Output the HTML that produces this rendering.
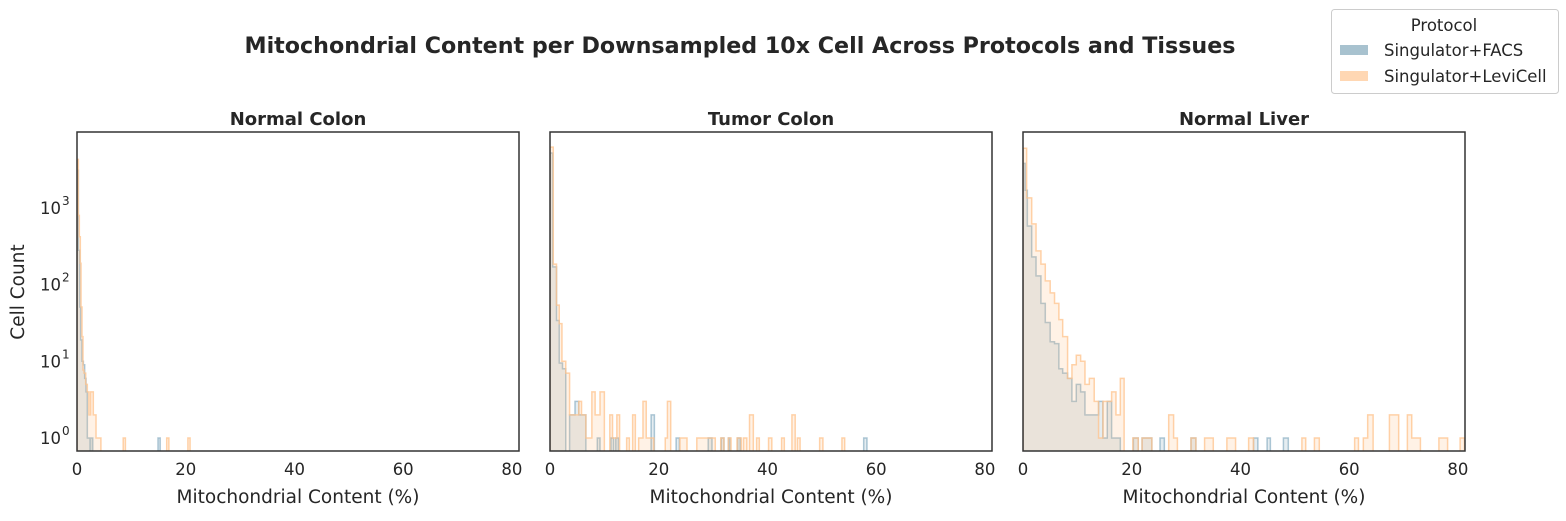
<!DOCTYPE html>
<html><head><meta charset="utf-8"><style>
body{margin:0;background:#fff;font-family:"Liberation Sans","DejaVu Sans",sans-serif}
</style></head><body>
<svg id="chart" width="1566" height="516" viewBox="0 0 1566 516" xmlns="http://www.w3.org/2000/svg" font-family="DejaVu Sans, Liberation Sans, sans-serif">
<rect width="1566" height="516" fill="#fff"/>
<text x="740" y="53" text-anchor="middle" font-size="22.2" font-weight="bold" fill="#262626">Mitochondrial Content per Downsampled 10x Cell Across Protocols and Tissues</text>
<text transform="translate(24,292) rotate(-90)" text-anchor="middle" font-size="18.5" fill="#262626">Cell Count</text>
<g>
<rect x="1331.5" y="9.5" width="227" height="84" rx="3" fill="#fff" stroke="#ccc"/>
<text x="1444" y="31" text-anchor="middle" font-size="16.5" fill="#262626">Protocol</text>
<rect x="1340" y="45" width="28" height="10" fill="#a8c2cf"/>
<text x="1384" y="56" font-size="16.5" fill="#262626">Singulator+FACS</text>
<rect x="1340" y="71" width="28" height="10" fill="#ffd7b3"/>
<text x="1384" y="82" font-size="16.5" fill="#262626">Singulator+LeviCell</text>
</g>
<g id="panels"></g>
</svg>
<script>
const panelTitles=["Normal Colon","Tumor Colon","Normal Liver"];
const xTicks=[0,20,40,60,80];
const yTicks=[0,1,2,3];
// bins: [start, end, count]
const colonNormalFacs=[[0,0.25,3100],[0.25,0.5,280],[0.5,0.67,51],[0.67,0.92,19],[0.92,1.17,10],[1.17,1.41,9],[1.41,1.66,6],[1.66,1.9,4],[1.9,2.4,1],[2.5,2.9,1],[14.9,15.3,1]];
const colonNormalLevi=[[0,0.25,4300],[0.25,0.43,800],[0.43,0.61,420],[0.61,0.74,190],[0.74,0.92,51],[0.92,1.1,21],[1.1,1.29,7.7],[1.29,1.6,7],[1.6,1.9,5],[1.9,2.2,4],[2.2,2.5,2],[2.5,3.0,4],[3.0,3.5,2],[3.5,4.4,1],[8.5,8.9,1],[16.5,16.9,1],[20.4,20.8,1]];
const colonTumorFacs=[[0,0.5,5200],[0.5,1.2,170],[1.2,1.7,34],[1.7,2.3,9.5],[2.3,2.9,8],[3.6,4.6,2],[4.6,5.3,3],[5.3,6.6,2],[8.7,9.2,1],[11.2,11.7,1],[12.1,12.6,1],[18.6,19.2,2],[23.2,23.8,1],[29.1,29.8,1],[31.5,32.0,1],[32.8,33.1,1],[34.5,35.0,1],[57.7,58.3,1]];
const colonTumorLevi=[[0,0.6,6200],[0.6,1.2,185],[1.2,1.7,54],[1.7,2.2,31],[2.2,2.9,10],[2.9,3.6,7],[3.6,5.3,2],[5.3,5.8,3],[5.8,6.6,2],[6.6,7.7,1],[7.7,8.3,4],[8.3,9.2,2],[9.2,10.0,4],[11.0,11.5,2],[11.5,12.3,1],[12.3,12.8,2],[14.1,14.6,1],[15.2,15.7,2],[16.3,17.1,1],[17.1,17.7,3],[17.7,19.1,1],[21.2,21.6,1],[21.6,22.2,3],[23.9,25.2,1],[27.0,30.4,1],[31.4,32.0,1],[32.8,33.3,1],[34.4,35.2,1],[35.6,36.2,1],[36.7,37.4,2],[38.0,38.5,1],[40.2,40.8,1],[42.6,43.1,1],[44.5,45.1,2],[45.5,46.0,1],[49.6,50.2,1],[53.7,54.2,1]];
const liverNormalFacs=[[0,0.4,3800],[0.4,0.8,1700],[0.8,1.6,580],[1.6,2.4,230],[2.4,3.3,130],[3.3,4.1,57],[4.1,5.0,32],[5.0,5.8,18],[5.8,6.6,17],[6.6,7.3,8],[7.3,8.2,7],[8.2,9.0,6],[9.0,9.8,3],[9.8,10.6,5],[10.6,11.4,4],[11.4,13.9,2],[13.9,14.7,3],[14.7,15.5,1],[15.5,16.3,3],[16.3,17.9,1],[20.3,21.2,1],[21.9,23.7,1],[25.2,26.0,1],[30.9,31.8,1],[42.4,43.2,1],[44.9,45.5,1],[47.9,48.8,1]];
const liverNormalLevi=[[0,0.67,6000],[0.67,1.6,1350],[1.6,2.4,620],[2.4,3.3,275],[3.3,4.1,185],[4.1,5.0,112],[5.0,5.8,78],[5.8,6.6,57],[6.6,7.3,35],[7.3,8.2,21],[8.2,9.0,6],[9.0,9.8,9],[9.8,10.6,12],[10.6,11.4,10],[11.4,12.2,5],[12.2,13.1,6],[13.1,13.9,3],[13.9,14.7,1],[14.7,15.5,3],[15.5,16.3,3],[16.3,17.1,4],[17.1,17.9,2],[17.9,18.6,6],[20.2,21.2,1],[21.9,23.7,1],[26.8,27.7,2],[27.7,28.4,1],[30.9,31.8,1],[33.4,35.0,1],[37.5,39.1,1],[41.5,42.4,1],[51.3,52.0,1],[53.6,54.5,1],[61.0,61.7,1],[62.6,63.4,1],[63.4,64.4,2],[67.4,69.1,2],[70.7,71.5,2],[71.5,73.1,1],[76.5,78.1,1],[80.4,81.2,1]];
const seriesFacs=[colonNormalFacs,colonTumorFacs,liverNormalFacs];
const seriesLevi=[colonNormalLevi,colonTumorLevi,liverNormalLevi];

const NS="http://www.w3.org/2000/svg";
const panelsG=document.getElementById('panels');
const lefts=[77,550,1023], T0=132, W=442, H=319, xMax=81.3;
function mk(t,a,p){const e=document.createElementNS(NS,t);for(const k in a)e.setAttribute(k,a[k]);(p||panelsG).appendChild(e);return e;}
function yScale(c){return 438-76.7*Math.log10(c);}
function stepPath(bins,xs){
  const base=T0+H+10;let d="";let prevEnd=null;
  bins.forEach(b=>{const x0=xs(b[0]),x1=xs(b[1]),y=yScale(b[2]);
    if(prevEnd===null||Math.abs(b[0]-prevEnd)>1e-6){ if(prevEnd!==null) d+=`L${xs(prevEnd)},${base}`; d+=`M${x0},${base}`;}
    d+=`L${x0},${y}L${x1},${y}`;prevEnd=b[1];});
  d+=`L${xs(prevEnd)},${base}`;return d;
}
for(let p=0;p<3;p++){
  const L=lefts[p];const xs=v=>L+v/xMax*W;
  const clipId='clip'+p;
  const cp=mk('clipPath',{id:clipId});mk('rect',{x:L,y:T0,width:W,height:H},cp);
  const pg=mk('g',{'clip-path':`url(#${clipId})`});
  
  
  const pf=mk('path',{d:stepPath(seriesFacs[p],xs),fill:'rgba(110,155,180,0.18)',stroke:'rgba(110,155,180,0.55)','stroke-width':1.5},pg);
  
  
  const pl=mk('path',{d:stepPath(seriesLevi[p],xs),fill:'rgba(255,190,130,0.2)',stroke:'rgba(255,195,140,0.75)','stroke-width':1.5},pg);
  
  
  const fr=mk('rect',{x:L,y:T0,width:W,height:H,fill:'none',stroke:'#333','stroke-width':1.5});
  
  
  const tt=mk('text',{x:L+W/2,y:125,'text-anchor':'middle','font-size':18,'font-weight':'bold',fill:'#262626'});
  
  
  tt.textContent=panelTitles[p];
  xTicks.forEach(v=>{const t=mk('text',{x:xs(v),y:475,'text-anchor':'middle','font-size':16.5,fill:'#262626'});
    
    
    t.textContent=v;});
  const xl=mk('text',{x:L+W/2,y:503,'text-anchor':'middle','font-size':18.5,fill:'#262626'});
  
  
  xl.textContent='Mitochondrial Content (%)';
  if(p===0){
    yTicks.forEach(e=>{const y=yScale(Math.pow(10,e));
      const t=mk('text',{x:61,y:y+6,'text-anchor':'end','font-size':16.5,fill:'#262626'});
      
      
      t.textContent='10';
      const s=mk('text',{x:62,y:y-3,'font-size':12,fill:'#262626'});
      
      
      s.textContent=e;});
  }
}
</script>
</body></html>
